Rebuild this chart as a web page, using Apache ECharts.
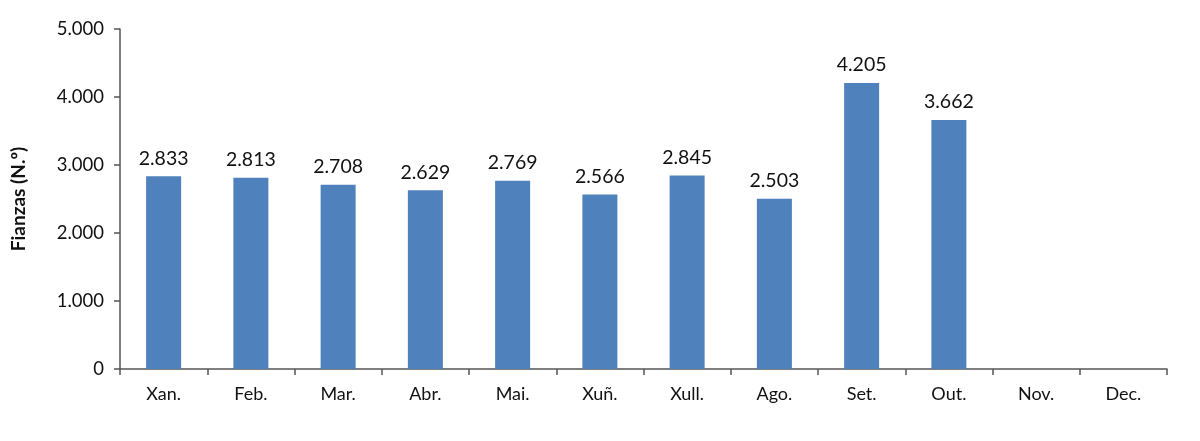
<!DOCTYPE html>
<html><head><meta charset="utf-8">
<script src="https://cdn.jsdelivr.net/npm/echarts@6/dist/echarts.min.js"></script>
<style>html,body{margin:0;padding:0;background:#fff}#c{width:1200px;height:441px}</style>
</head><body><div id="c"></div>
<script>
const categories = ['Xan.','Feb.','Mar.','Abr.','Mai.','Xuñ.','Xull.','Ago.','Set.','Out.','Nov.','Dec.'];
const values = [2833, 2813, 2708, 2629, 2769, 2566, 2845, 2503, 4205, 3662, null, null];
const yTicks = [0, 1000, 2000, 3000, 4000, 5000];
const yName = 'Fianzas (N.º)';

function fmt(v){ return String(v).replace(/\B(?=(\d{3})+(?!\d))/g, '.'); }

const chart = echarts.init(document.getElementById('c'), null, {renderer:'canvas'});
chart.setOption({
  animation:false,
  textStyle:{fontFamily:'Lato, sans-serif'},
  grid:{left:120, right:33, top:29, bottom:72, containLabel:false},
  xAxis:{
    type:'category', data:categories,
    axisLine:{lineStyle:{color:'#555', width:1.5}},
    axisTick:{show:true, alignWithLabel:false, length:6, lineStyle:{color:'#555', width:1.5}},
    axisLabel:{color:'#111', fontSize:18, margin:16, fontFamily:'Lato, sans-serif'}
  },
  yAxis:{
    type:'value', min:yTicks[0], max:yTicks[yTicks.length-1], interval:1000,
    name:yName, nameLocation:'middle', nameGap:92, nameRotate:90,
    nameTextStyle:{fontWeight:'bold', fontSize:19, color:'#111', fontFamily:'Lato, sans-serif'},
    axisLine:{show:true, lineStyle:{color:'#555', width:1.5}},
    axisTick:{show:true, inside:false, length:6, lineStyle:{color:'#555', width:1.5}},
    splitLine:{show:false},
    axisLabel:{color:'#111', fontSize:18.5, margin:16, formatter:fmt, fontFamily:'Lato, sans-serif'}
  },
  series:[{
    type:'bar', data:values, barWidth:35,
    itemStyle:{color:'#4F81BD'},
    label:{show:true, position:'top', distance:8, color:'#111', fontSize:19.5,
      fontFamily:'Lato, sans-serif',
      formatter:p=>p.value==null?'':fmt(p.value)}
  }]
});
</script></body></html>
